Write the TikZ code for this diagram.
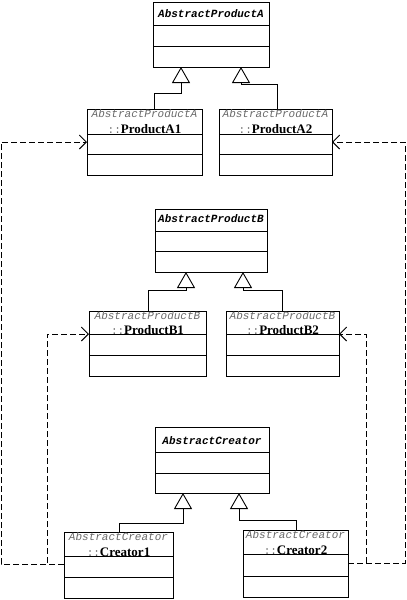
\documentclass[tikz,border=0pt]{standalone}
\usepackage{fontspec}
\setmonofont{Liberation Mono}
\newfontfamily\clsfont{Liberation Serif}
\usetikzlibrary{arrows.meta}
\definecolor{stereo}{RGB}{105,105,105}
\tikzset{
  umlbox/.style={draw, line width=0.9pt, inner sep=0pt, outer sep=0pt, anchor=north west},
  divider/.style={line width=0.9pt},
  abstitle/.style={font=\ttfamily\bfseries\itshape\fontsize{11}{11}\selectfont, inner sep=0pt},
  parentname/.style={font=\ttfamily\itshape\fontsize{11}{11}\selectfont, text=stereo, inner sep=0pt},
  childname/.style={font=\clsfont\bfseries\fontsize{13}{13}\selectfont, inner sep=0pt},
  inherit/.style={line width=0.9pt, -{Triangle[open, length=16pt, width=18pt, line width=0.9pt]}},
  depend/.style={line width=0.9pt, dash pattern=on 6pt off 3pt,
    -{Straight Barb[length=7pt, width=14pt, line width=0.9pt]}},
}
% class box: name, x1, y1, x2, y2, first divider, second divider
\newcommand\classbox[7]{%
  \node[umlbox, minimum width={(#4-#2)*1pt}, minimum height={(#5-#3)*1pt}] (#1) at (#2,#3) {};
  \draw[divider] (#2,#6) -- (#4,#6);
  \draw[divider] (#2,#7) -- (#4,#7);
}
\newcommand\qual{{\mdseries\upshape\ttfamily\fontsize{11}{11}\selectfont\color{stereo}::}}
\begin{document}
\begin{tikzpicture}[x=1pt,y=-1pt]
\useasboundingbox (0,0) rectangle (407,600);

% product family A
\classbox{apa}{153}{2}{269}{67}{25}{46}
\node[abstitle] (apaT) at (211,13.5) {AbstractProductA};
\classbox{pa1}{87}{109}{202}{175}{134}{154}
\node[parentname] (pa1P) at (144.5,114) {AbstractProductA};
\node[childname] (pa1N) at (144.5,129) {\qual ProductA1};
\classbox{pa2}{219}{109}{332}{175}{134}{154}
\node[parentname] (pa2P) at (275.5,114) {AbstractProductA};
\node[childname] (pa2N) at (275.5,129) {\qual ProductA2};

% product family B
\classbox{apb}{155}{209}{267}{272}{231}{251}
\node[abstitle] (apbT) at (211,219) {AbstractProductB};
\classbox{pb1}{89}{311}{206}{376}{334}{355}
\node[parentname] (pb1P) at (147.5,315.5) {AbstractProductB};
\node[childname] (pb1N) at (147.5,330) {\qual ProductB1};
\classbox{pb2}{226}{311}{339}{376}{334}{355}
\node[parentname] (pb2P) at (282.5,315.5) {AbstractProductB};
\node[childname] (pb2N) at (282.5,330) {\qual ProductB2};

% creators
\classbox{acr}{155}{427}{269}{493}{452}{473}
\node[abstitle] (acrT) at (212,441) {AbstractCreator};
\classbox{cr1}{64}{532}{173}{598}{556}{577}
\node[parentname] (cr1P) at (118.5,537) {AbstractCreator};
\node[childname] (cr1N) at (118.5,552) {\qual Creator1};
\classbox{cr2}{243}{530}{348}{597}{554}{576}
\node[parentname] (cr2P) at (295.5,534.5) {AbstractCreator};
\node[childname] (cr2N) at (295.5,550) {\qual Creator2};

% generalization
\draw[inherit] (pa1.north west -| 154,0) |- (181,93) -- (apa.south -| 181,0);
\draw[inherit] (pa2.north west -| 277,0) |- (241,84) -- (apa.south -| 241,0);
\draw[inherit] (pb1.north west -| 148,0) |- (186,290) -- (apb.south -| 186,0);
\draw[inherit] (pb2.north west -| 282,0) |- (243,290) -- (apb.south -| 243,0);
\draw[inherit] (cr1.north west -| 119,0) |- (183,523) -- (acr.south -| 183,0);
\draw[inherit] (cr2.north west -| 296,0) |- (239,520) -- (acr.south -| 239,0);

% creation dependencies
\coordinate (c1out) at (cr1.west |- 0,564);
\coordinate (c2out) at (cr2.east |- 0,563);
\draw[depend] (c1out) -- (1,564) -- (1,142) -- (pa1.west |- 0,142);
\draw[depend] (c1out) -- (47,564) -- (47,334) -- (pb1.west |- 0,334);
\draw[depend] (c2out) -- (405,563) -- (405,142) -- (pa2.east |- 0,142);
\draw[depend] (c2out) -- (366,563) -- (366,334) -- (pb2.east |- 0,334);
\end{tikzpicture}
\end{document}
